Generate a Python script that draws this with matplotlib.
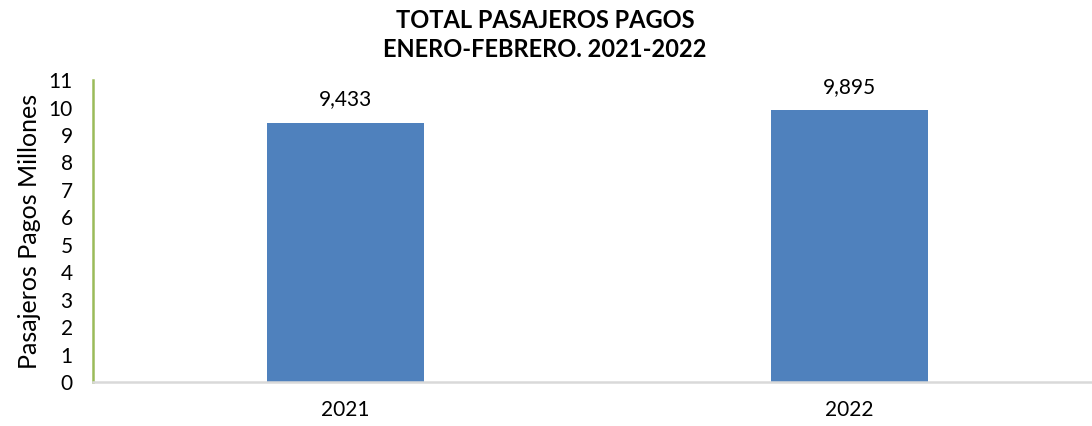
import matplotlib
matplotlib.use("Agg")
import matplotlib.pyplot as plt

# datos
anios = ["2021", "2022"]
pasajeros = [9.433, 9.895]
etiquetas = ["9,433", "9,895"]

plt.rcParams['font.family'] = ['Lato', 'DejaVu Sans']

fig = plt.figure(figsize=(10.92, 4.26), dpi=100)
ax = fig.add_axes([0.0856, 0.103, 0.923, 0.709])

x = range(len(anios))
barras = ax.bar(x, pasajeros, width=0.31, color='#4F81BD', zorder=2)

for b, txt in zip(barras, etiquetas):
    ax.text(b.get_x() + b.get_width() / 2, b.get_height() + 0.5, txt,
            ha='center', va='bottom', fontsize=15)

ax.set_xlim(-0.5, 1.5)
ax.set_ylim(0, 11)
ax.set_yticks(range(0, 12))
ax.set_xticks(list(x))
ax.set_xticklabels(anios)
ax.tick_params(axis='both', length=0, labelsize=15)
ax.tick_params(axis='y', pad=15)
ax.tick_params(axis='x', pad=13)

ax.spines['top'].set_visible(False)
ax.spines['right'].set_visible(False)
ax.spines['left'].set_color('#9BBB59')
ax.spines['left'].set_linewidth(1.8)
ax.spines['bottom'].set_color('#D9D9D9')
ax.spines['bottom'].set_linewidth(1.8)

ax.set_ylabel('Pasajeros Pagos Millones', fontsize=18, labelpad=5)
fig.text(0.499, 0.98, 'TOTAL PASAJEROS PAGOS\nENERO-FEBRERO. 2021-2022',
         ha='center', va='top', fontsize=17, fontweight='bold', linespacing=1.35)

plt.savefig('out.png', dpi=100)
